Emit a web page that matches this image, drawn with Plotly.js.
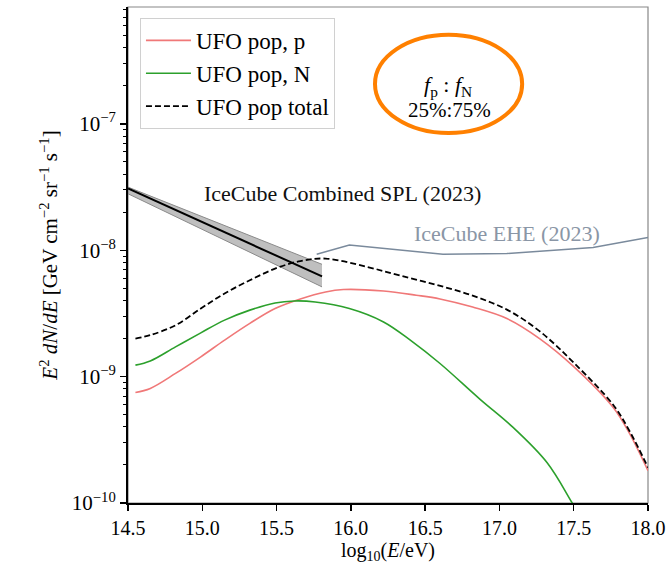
<!DOCTYPE html>
<html>
<head>
<meta charset="utf-8">
<script src="https://cdn.plot.ly/plotly-3.0.1.min.js"></script>
<style>html,body{margin:0;padding:0;background:#fff;}#chart{width:669px;height:564px;}</style>
</head>
<body>
<div id="chart"></div>
<script>
// ---- data ----
const pX = [14.55,14.65,14.82,14.99,15.15,15.32,15.49,15.66,15.83,15.95,16.22,16.44,16.60,16.82,17.05,17.27,17.50,17.77,17.88,18.0];
const pY = [7.50e-10,8.07e-10,1.06e-9,1.435e-9,1.945e-9,2.64e-9,3.46e-9,4.12e-9,4.68e-9,4.89e-9,4.76e-9,4.41e-9,4.12e-9,3.55e-9,2.88e-9,2.00e-9,1.20e-9,5.62e-10,3.47e-10,1.80e-10];

const nX = [14.55,14.65,14.82,14.99,15.15,15.32,15.49,15.62,15.76,15.99,16.22,16.40,16.60,16.87,17.09,17.32,17.49,17.60];
const nY = [1.233e-9,1.33e-9,1.72e-9,2.22e-9,2.80e-9,3.36e-9,3.83e-9,3.97e-9,3.90e-9,3.46e-9,2.71e-9,1.945e-9,1.27e-9,6.61e-10,3.98e-10,2.09e-10,1.0e-10,6.0e-11];

const totX = [14.55,14.65,14.82,14.99,15.15,15.32,15.49,15.66,15.83,16.11,16.33,16.58,16.82,17.05,17.27,17.50,17.77,17.88,18.0];
const totY = [2.00e-9,2.13e-9,2.55e-9,3.46e-9,4.55e-9,5.79e-9,7.16e-9,8.22e-9,8.59e-9,7.38e-9,6.31e-9,5.31e-9,4.37e-9,3.39e-9,2.29e-9,1.29e-9,5.89e-10,3.63e-10,1.91e-10];

const splX = [14.5, 15.806];
const splY = [3.08e-8, 6.22e-9];
const splUpper = [3.16e-8, 7.74e-9];
const splLower = [2.80e-8, 5.13e-9];

const eheX = [15.77, 15.99, 16.62, 17.05, 17.63, 18.0];
const eheY = [9.29e-9, 1.10e-8, 9.29e-9, 9.42e-9, 1.05e-8, 1.26e-8];

const xTicks = [14.5,15.0,15.5,16.0,16.5,17.0,17.5,18.0];
const yTicks = [1e-10,1e-9,1e-8,1e-7];
const yTickText = ['10<sup>−10</sup>','10<sup>−9</sup>','10<sup>−8</sup>','10<sup>−7</sup>'];
const yMinor = [];
[1e-10,1e-9,1e-8,1e-7].forEach(d => { for (let k = 2; k <= 9; k++) yMinor.push(k*d); });

const FONT = 'Liberation Serif, DejaVu Serif, serif';

const traces = [
  {x: splX, y: splLower, mode: 'lines', line: {color: '#8a8a8a', width: 1}, showlegend: false, hoverinfo: 'skip'},
  {x: splX, y: splUpper, mode: 'lines', line: {color: '#8a8a8a', width: 1}, fill: 'tonexty', fillcolor: 'rgba(128,128,128,0.5)', showlegend: false, hoverinfo: 'skip'},
  {x: splX, y: splY, mode: 'lines', line: {color: '#000', width: 2}, showlegend: false},
  {x: eheX, y: eheY, mode: 'lines', line: {color: '#7a8a9c', width: 1.5}, showlegend: false},
  {x: pX, y: pY, mode: 'lines', name: 'UFO pop, p', line: {color: '#f07878', width: 1.6, shape: 'spline', smoothing: 1}},
  {x: nX, y: nY, mode: 'lines', name: 'UFO pop, N', line: {color: '#2ca02c', width: 1.6, shape: 'spline', smoothing: 1}},
  {x: totX, y: totY, mode: 'lines', name: 'UFO pop total', line: {color: '#000', width: 1.8, dash: '6px,3px', shape: 'spline', smoothing: 1}}
];

const layout = {
  width: 669, height: 564,
  margin: {l: 128, r: 21, t: 7, b: 61},
  paper_bgcolor: '#fff', plot_bgcolor: '#fff',
  font: {family: FONT, size: 21, color: '#000'},
  showlegend: true,
  legend: {
    x: 0.023, y: 0.978, xanchor: 'left', yanchor: 'top',
    traceorder: 'normal',
    bgcolor: 'rgba(255,255,255,0.9)', bordercolor: '#d0d0d0', borderwidth: 1,
    font: {family: FONT, size: 23, color: '#000'},
    itemwidth: 45, tracegroupgap: 0
  },
  xaxis: {
    range: [14.5, 18.0], tickvals: xTicks, tickformat: '.1f',
    showgrid: false, zeroline: false,
    showline: true, linecolor: '#000', linewidth: 2,
    ticks: 'outside', ticklen: 6, tickwidth: 1.5, tickcolor: '#000',
    tickfont: {family: FONT, size: 20},
    automargin: false
  },
  yaxis: {
    type: 'log', range: [-10, -6.075],
    tickvals: yTicks, ticktext: yTickText,
    showgrid: false, zeroline: false,
    showline: true, linecolor: '#000', linewidth: 2,
    ticks: 'outside', ticklen: 6, tickwidth: 1.5, tickcolor: '#000',
    tickfont: {family: FONT, size: 21},
    minor: {tickvals: yMinor, ticks: 'outside', ticklen: 3.5, tickwidth: 1, tickcolor: '#000', showgrid: false},
    title: {text: '<i>E</i><sup>2</sup> <i>dN</i>/<i>dE</i> [GeV cm<sup>−2</sup> sr<sup>−1</sup> s<sup>−1</sup>]', font: {family: FONT, size: 21}, standoff: 8},
    automargin: false
  },
  shapes: [
    {type: 'rect', xref: 'paper', yref: 'paper', x0: 0, x1: 1, y0: 0, y1: 1, line: {color: '#888', width: 1.2}, layer: 'below'},
    {type: 'circle', xref: 'paper', yref: 'paper', x0: 0.475, x1: 0.758, y0: 0.746, y1: 0.944, line: {color: '#ff8000', width: 4}}
  ],
  annotations: [
    {xref: 'paper', yref: 'paper', x: 0.5, y: -0.098, xanchor: 'center', yanchor: 'middle', text: 'log<sub>10</sub>(<i>E</i>/eV)', showarrow: false, font: {family: FONT, size: 20}},
    {xref: 'x', yref: 'y', x: 15.944, y: -7.549, text: 'IceCube Combined SPL (2023)', showarrow: false, font: {family: FONT, size: 22, color: '#111'}},
    {xref: 'x', yref: 'y', x: 17.054, y: -7.866, text: 'IceCube EHE (2023)', showarrow: false, font: {family: FONT, size: 22, color: '#8a96a6'}},
    {xref: 'paper', yref: 'paper', x: 0.615, y: 0.873, text: '<i>f</i><sub>p</sub> : <i>f</i><sub>N</sub>', showarrow: false, font: {family: FONT, size: 22}},
    {xref: 'paper', yref: 'paper', x: 0.619, y: 0.821, text: '25%:75%', showarrow: false, font: {family: FONT, size: 21}}
  ]
};

Plotly.newPlot('chart', traces, layout, {displayModeBar: false, staticPlot: true});
</script>
</body>
</html>
